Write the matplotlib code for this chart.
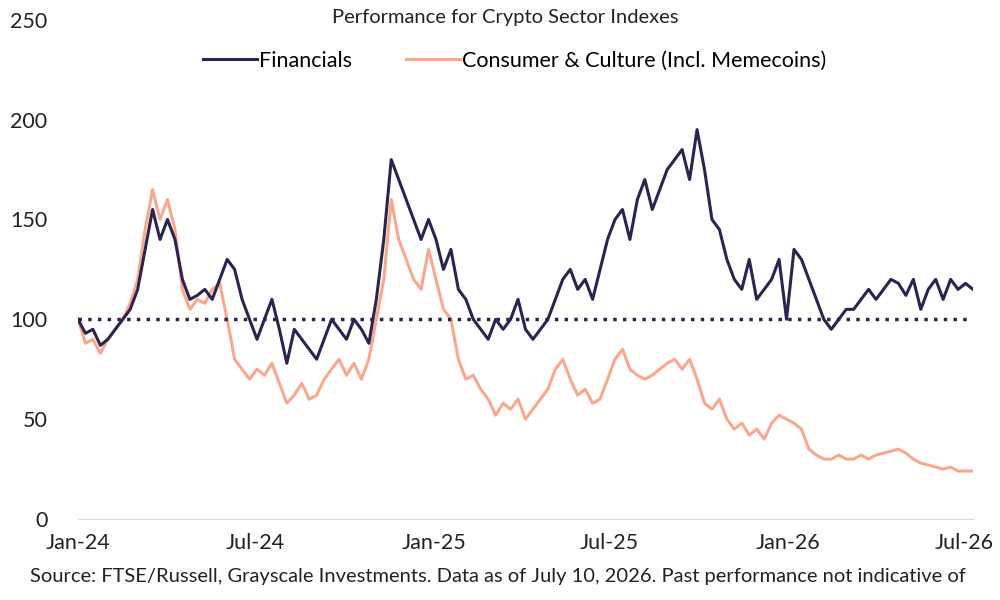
import matplotlib
matplotlib.use("Agg")
import matplotlib.pyplot as plt
import matplotlib.dates as mdates
import pandas as pd
import numpy as np

plt.rcParams['font.family'] = ['Lato', 'DejaVu Sans']

financials = [100, 93, 95, 87,
    90, 95, 100, 105,
    115, 135, 155, 140,
    150, 140, 120, 110,
    112, 115, 110, 120,
    130, 125, 110, 100,
    90, 100, 110, 95,
    78, 95, 90, 85,
    80, 90, 100, 95,
    90, 100, 95, 88,
    110, 140, 180, 170,
    160, 150, 140, 150,
    140, 125, 135, 115,
    110, 100, 95, 90,
    100, 95, 100, 110,
    95, 90, 95, 100,
    110, 120, 125, 115,
    120, 110, 125, 140,
    150, 155, 140, 160,
    170, 155, 165, 175,
    180, 185, 170, 195,
    175, 150, 145, 130,
    120, 115, 130, 110,
    115, 120, 130, 100,
    135, 130, 120, 110,
    100, 95, 100, 105,
    105, 110, 115, 110,
    115, 120, 118, 112,
    120, 105, 115, 120,
    110, 120, 115, 118,
    115]
consumer = [100, 88, 90, 83,
    90, 95, 100, 108,
    120, 145, 165, 150,
    160, 145, 115, 105,
    110, 108, 115, 118,
    100, 80, 75, 70,
    75, 72, 78, 68,
    58, 62, 68, 60,
    62, 70, 75, 80,
    72, 78, 70, 80,
    100, 120, 160, 140,
    130, 120, 115, 135,
    120, 105, 100, 80,
    70, 72, 65, 60,
    52, 58, 55, 60,
    50, 55, 60, 65,
    75, 80, 70, 62,
    65, 58, 60, 70,
    80, 85, 75, 72,
    70, 72, 75, 78,
    80, 75, 80, 70,
    58, 55, 60, 50,
    45, 48, 42, 45,
    40, 48, 52, 50,
    48, 45, 35, 32,
    30, 30, 32, 30,
    30, 32, 30, 32,
    33, 34, 35, 33,
    30, 28, 27, 26,
    25, 26, 24, 24,
    24]
start, end = pd.Timestamp('2024-01-01'), pd.Timestamp('2026-07-10')
dates = pd.to_datetime(np.linspace(start.value, end.value, len(financials)))

fig = plt.figure(figsize=(10, 6), dpi=100)
ax = fig.add_axes([0.078, 0.135, 0.895, 0.832])
dark, orange = '#2b2450', '#f9a88e'
ax.plot(dates, consumer, color=orange, lw=2.2, label='Consumer & Culture (Incl. Memecoins)', zorder=2)
ax.plot(dates, financials, color=dark, lw=2.2, label='Financials', zorder=3)
ax.axhline(100, color=dark, lw=2.5, ls=(0, (1, 1.8)), zorder=4)

ax.set_ylim(0, 250)
ax.set_xlim(start, end)
ax.set_yticks([0, 50, 100, 150, 200, 250])
ax.set_xticks(pd.to_datetime(['2024-01-01', '2024-07-01', '2025-01-01', '2025-07-01', '2026-01-01', '2026-07-01']))
ax.xaxis.set_major_formatter(mdates.DateFormatter('%b-%y'))
for s in ['top', 'right', 'left']:
    ax.spines[s].set_visible(False)
ax.spines['bottom'].set_color('#d9d9d9')
ax.tick_params(length=0, labelsize=15.5, colors='#222222', pad=10)
ax.tick_params(axis='y', pad=22)

handles, labels = ax.get_legend_handles_labels()
ax.legend(handles[::-1], labels[::-1], loc='center', bbox_to_anchor=(0.488, 0.918), ncol=2,
          frameon=False, fontsize=15.5, handlelength=2.5, columnspacing=2.5, handletextpad=0.1)
fig.text(0.505, 0.97, 'Performance for Crypto Sector Indexes', ha='center', va='center', fontsize=14.5, color='#222222')
fig.text(0.03, 0.025, 'Source: FTSE/Russell, Grayscale Investments. Data as of July 10, 2026. Past performance not indicative of',
         fontsize=14.5, color='#222222', ha='left', va='bottom')
fig.savefig('out.png', dpi=100)
